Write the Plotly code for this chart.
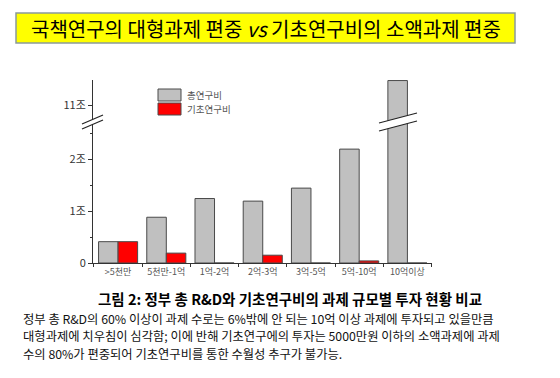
import plotly.graph_objects as go

# ---- data ----
categories = [">5천만", "5천만-1억", "1억-2억", "2억-3억", "3억-5억", "5억-10억", "10억이상"]
total_rnd = [0.41, 0.88, 1.24, 1.19, 1.44, 2.19, 11.47]   # 조 원
basic_rnd = [0.41, 0.19, 0.0, 0.15, 0.0, 0.04, 0.0]      # 조 원
lower_tick_vals = [0, 1, 2]
lower_tick_text = ["0", "1조", "2조"]
upper_tick_vals = [11]
upper_tick_text = ["11조"]
series_names = ["총연구비", "기초연구비"]

title_text = "국책연구의 대형과제 편중 <i>vs</i> 기초연구비의 소액과제 편중"
caption_title = "<b>그림 2: 정부 총 R&D와 기초연구비의 과제 규모별 투자 현황 비교</b>"
caption_lines = [
    "정부 총 R&D의 60% 이상이 과제 수로는 6%밖에 안 되는 10억 이상 과제에 투자되고 있을만큼",
    "대형과제에 치우침이 심각함; 이에 반해 기초연구에의 투자는 5000만원 이하의 소액과제에 과제",
    "수의 80%가 편중되어 기초연구비를 통한 수월성 추구가 불가능.",
]

# ---- layout geometry (pixels) ----
W, H = 560, 378
PL, PR, PT, PB = 93, 432, 80, 263
BREAK_Y = 121


def xp(px):
    return (px - PL) / (PR - PL)


def yp(py):
    return (PB - py) / (PB - PT)


FONT = "Noto Sans CJK KR, Noto Sans, sans-serif"
GRAY_FILL = "#c0c0c0"
RED_FILL = "#ff0000"
EDGE = "#4a4a4a"
FILLS = [GRAY_FILL, RED_FILL]

fig = go.Figure()
for yref in ("y", "y2"):
    for name, vals, fill in zip(series_names, [total_rnd, basic_rnd], FILLS):
        fig.add_trace(go.Bar(x=categories, y=vals, name=name,
                             marker=dict(color=fill, line=dict(color=EDGE, width=1)),
                             yaxis=yref, showlegend=False))

split = yp(BREAK_Y)
lower_top = (PB - BREAK_Y) / 52.0
upper_bottom = 11 - (BREAK_Y - 105) / 52.0
upper_top = 11 + (105 - PT) / 52.0

axis_common = dict(showline=True, linecolor="#333", linewidth=1, ticks="outside",
                   ticklen=4, tickcolor="#333", showgrid=False, zeroline=False,
                   tickfont=dict(family=FONT, size=11, color="#333"))

fig.update_layout(
    width=W, height=H, autosize=False,
    margin=dict(l=PL, r=W - PR, t=PT, b=H - PB, pad=0),
    paper_bgcolor="white", plot_bgcolor="white",
    barmode="group", bargap=0.19, bargroupgap=0,
    font=dict(family=FONT),
    showlegend=False,
    xaxis=dict(type="category", range=[-0.52, 6.51], showline=True, linecolor="#333",
               ticks="outside", ticklen=3, tickcolor="#333", tickson="boundaries",
               showgrid=False, anchor="y", tickangle=0,
               tickfont=dict(family=FONT, size=9, color="#555")),
    yaxis=dict(domain=[0, split], range=[0, lower_top], tickvals=lower_tick_vals,
               ticktext=lower_tick_text,
               minor=dict(dtick=0.5, ticks="outside", ticklen=2, tickcolor="#333"),
               **axis_common),
    yaxis2=dict(domain=[split, 1], range=[upper_bottom, upper_top], tickvals=upper_tick_vals,
                ticktext=upper_tick_text, anchor="x", **axis_common),
)

shapes = []
# title box
shapes.append(dict(type="rect", xref="paper", yref="paper",
                   x0=xp(16), x1=xp(515), y0=yp(13), y1=yp(43),
                   fillcolor="#ffff00", line=dict(color="#8a9a9a", width=1.5), layer="below"))


def break_marks(x0, x1, ya0, ya1, gap):
    # white parallelogram + two parallel lines
    path = (f"M{xp(x0)},{yp(ya0)} L{xp(x1)},{yp(ya1)} "
            f"L{xp(x1)},{yp(ya1 + gap)} L{xp(x0)},{yp(ya0 + gap)} Z")
    out = [dict(type="path", xref="paper", yref="paper", path=path,
                fillcolor="white", line=dict(width=0))]
    for g in (0, gap):
        out.append(dict(type="line", xref="paper", yref="paper",
                        x0=xp(x0), y0=yp(ya0 + g), x1=xp(x1), y1=yp(ya1 + g),
                        line=dict(color="#222", width=1.2)))
    return out


shapes += break_marks(82, 103, 124, 115, 5)
shapes += break_marks(379, 417, 123, 113, 8)

# legend swatches
ann = []
for i, (name, fill) in enumerate(zip(series_names, FILLS)):
    top = 89 + 14 * i
    shapes.append(dict(type="rect", xref="paper", yref="paper",
                       x0=xp(158), x1=xp(181), y0=yp(top), y1=yp(top + 12),
                       fillcolor=fill, line=dict(color=EDGE, width=1)))
    ann.append(dict(text=name, xref="paper", yref="paper", x=xp(185), y=yp(top + 6),
                    xanchor="left", yanchor="middle", showarrow=False,
                    font=dict(family=FONT, size=9.5, color="#555")))
fig.update_layout(shapes=shapes)

ann.append(dict(text=title_text, xref="paper", yref="paper", x=xp(265.5), y=yp(28.5),
                xanchor="center", yanchor="middle", showarrow=False,
                font=dict(family=FONT, size=20, color="black")))
ann.append(dict(text=caption_title, xref="paper", yref="paper", x=xp(290), y=yp(298.5),
                xanchor="center", yanchor="middle", showarrow=False,
                font=dict(family=FONT, size=14.5, color="black")))
for i, line in enumerate(caption_lines):
    ann.append(dict(text=line, xref="paper", yref="paper", x=xp(21), y=yp(318.5 + 17.9 * i),
                    xanchor="left", yanchor="middle", showarrow=False,
                    font=dict(family=FONT, size=12.3, color="#111")))
fig.update_layout(annotations=ann)

fig.write_html("out.html", config={"displayModeBar": False},
               post_script="document.body.style.margin='0';")
